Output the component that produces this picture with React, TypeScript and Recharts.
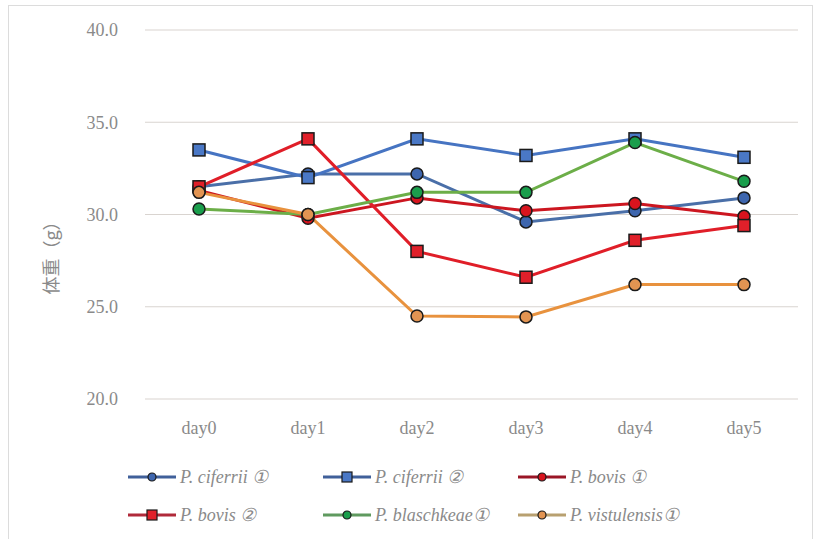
import React from "react";
import { LineChart, Line, XAxis, YAxis, CartesianGrid, Legend } from "recharts";

const days = ["day0", "day1", "day2", "day3", "day4", "day5"];
const ciferrii1 = [31.5, 32.2, 32.2, 29.6, 30.2, 30.9];
const ciferrii2 = [33.5, 32.0, 34.1, 33.2, 34.1, 33.1];
const bovis1 = [31.3, 29.8, 30.9, 30.2, 30.6, 29.9];
const bovis2 = [31.5, 34.1, 28.0, 26.6, 28.6, 29.4];
const blaschkeae1 = [30.3, 30.0, 31.2, 31.2, 33.9, 31.8];
const vistulensis1 = [31.2, 30.0, 24.5, 24.45, 26.2, 26.2];
const yTicks = [20, 25, 30, 35, 40];

const data = days.map((d, i) => ({
  day: d,
  c1: ciferrii1[i],
  c2: ciferrii2[i],
  b1: bovis1[i],
  b2: bovis2[i],
  bl: blaschkeae1[i],
  vi: vistulensis1[i],
}));

type S = { key: string; name: string; line: string; fill: string; shape: "circle" | "square"; legendLine: string };
const series: S[] = [
  { key: "c1", name: "P. ciferrii \u2460", line: "#4a6fa8", fill: "#3e66ae", shape: "circle", legendLine: "#40609a" },
  { key: "c2", name: "P. ciferrii \u2461", line: "#4674c2", fill: "#4a78c6", shape: "square", legendLine: "#40609a" },
  { key: "b1", name: "P. bovis \u2460", line: "#cc1620", fill: "#d8141e", shape: "circle", legendLine: "#9a1626" },
  { key: "b2", name: "P. bovis \u2461", line: "#e01e28", fill: "#e0202a", shape: "square", legendLine: "#b02a3a" },
  { key: "bl", name: "P. blaschkeae\u2460", line: "#6cae48", fill: "#1a9e4c", shape: "circle", legendLine: "#5f9a5f" },
  { key: "vi", name: "P. vistulensis\u2460", line: "#e8923e", fill: "#e29452", shape: "circle", legendLine: "#b8a070" },
];

const font = "'Liberation Serif', 'DejaVu Serif', serif";

const makeSquareDot = (fill: string) => (props: any) => {
  const { cx, cy, index } = props;
  if (cx == null || cy == null) return <g key={index} />;
  return (
    <rect key={index} x={cx - 6} y={cy - 6} width={12} height={12} fill={fill} stroke="#1a1a1a" strokeWidth={1.5} />
  );
};

const LegendContent = () => (
  <div style={{ position: "relative", width: 814, height: 0 }}>
    {series.map((s, i) => {
      const col = i % 3;
      const row = Math.floor(i / 3);
      const left = 128 + col * 195;
      const top = row * 38;
      return (
        <div key={s.key} style={{ position: "absolute", left, top, display: "flex", alignItems: "center", height: 22 }}>
          <svg width={48} height={14} style={{ display: "block" }}>
            <line x1={0} y1={7} x2={48} y2={7} stroke={s.legendLine} strokeWidth={3} />
            {s.shape === "square" ? (
              <rect x={19} y={2} width={10} height={10} fill={s.fill} stroke="#1a1a1a" strokeWidth={1.2} />
            ) : (
              <circle cx={24} cy={7} r={4} fill={s.fill} stroke="#1a1a1a" strokeWidth={1.2} />
            )}
          </svg>
          <span style={{ fontFamily: font, fontStyle: "italic", fontSize: 18, color: "#8a8a8a", marginLeft: 4, whiteSpace: "nowrap" }}>
            {s.name}
          </span>
        </div>
      );
    })}
  </div>
);

const AxisTitle = (props: any) => {
  const vb = props.viewBox || {};
  const x = 50;
  const y = (vb.y ?? 30) + (vb.height ?? 368) / 2 + 39;
  return (
    <text
      x={x}
      y={y}
      transform={`rotate(-90 ${x} ${y})`}
      textAnchor="middle"
      dominantBaseline="central"
      style={{ fontFamily: "'Noto Sans CJK SC', serif", fontSize: 18, fill: "#8a8a8a" }}
    >
      体重（g）
    </text>
  );
};

export default function App() {
  return (
    <div style={{ position: "absolute", left: 0, top: 0, width: 814, height: 539, background: "#fff", overflow: "hidden" }}>
      <div style={{ position: "absolute", left: 8, top: 5, width: 805, height: 560, border: "1px solid #dcdcdc", boxSizing: "border-box" }} />
      <div style={{ position: "absolute", left: 0, top: 0 }}>
        <LineChart width={814} height={539} data={data} margin={{ top: 30, right: 16, bottom: 110, left: 20 }}>
          <CartesianGrid vertical={false} stroke="#d9d4d0" strokeWidth={1.2} />
          <XAxis
            dataKey="day"
            axisLine={false}
            tickLine={false}
            tickSize={0}
            tickMargin={22}
            padding={{ left: 54, right: 54 }}
            tick={{ fontFamily: font, fontSize: 18, fill: "#8a8a8a" }}
          />
          <YAxis
            width={125}
            domain={[20, 40]}
            ticks={yTicks}
            axisLine={false}
            tickLine={false}
            tickSize={0}
            tickMargin={27}
            tickFormatter={(v: number) => v.toFixed(1)}
            tick={{ fontFamily: font, fontSize: 18, fill: "#8a8a8a" }}
            label={<AxisTitle />}
          />
          <Legend verticalAlign="bottom" wrapperStyle={{ left: 0, top: 466, width: 814, height: 0 }} content={() => <LegendContent />} />
          {series.map((s) => (
            <Line
              key={s.key}
              dataKey={s.key}
              name={s.name}
              type="linear"
              stroke={s.line}
              strokeWidth={3}
              isAnimationActive={false}
              activeDot={false}
              dot={
                s.shape === "square"
                  ? makeSquareDot(s.fill)
                  : { r: 6, fill: s.fill, stroke: "#1a1a1a", strokeWidth: 1.5 }
              }
            />
          ))}
        </LineChart>
      </div>
    </div>
  );
}
